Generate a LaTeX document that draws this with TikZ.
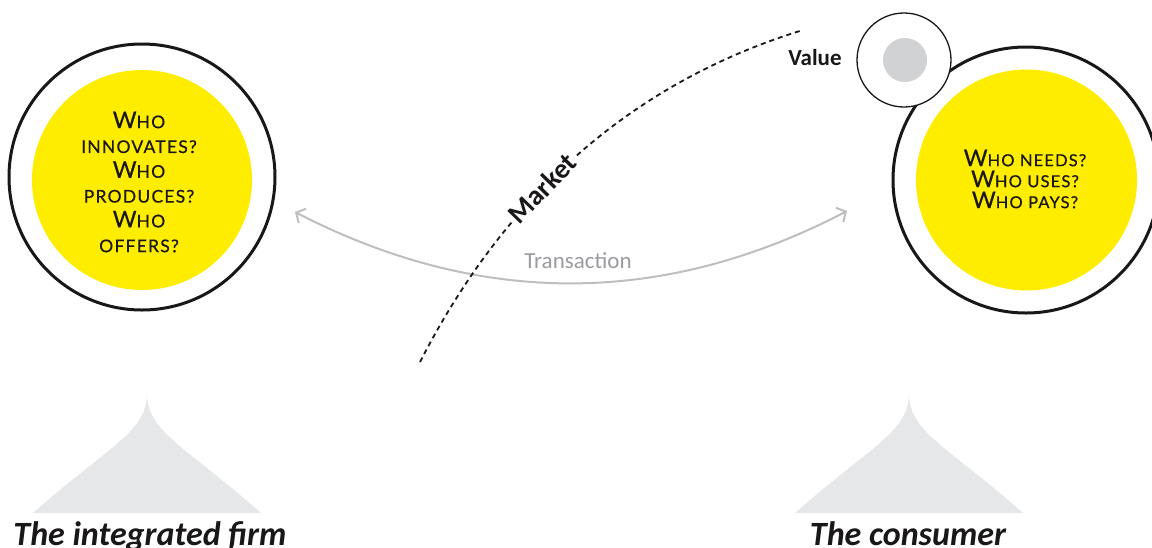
\documentclass[tikz,border=0pt]{standalone}
\usepackage{fontspec}
\setmainfont{Carlito}
\newfontfamily\whofont[LetterSpace=7,FakeBold=0.6]{Lato}
\usetikzlibrary{arrows.meta}
\definecolor{yel}{HTML}{FFED00}
\definecolor{discgray}{HTML}{D1D2D4}
\definecolor{tentgray}{HTML}{E6E7E8}
\definecolor{arrgray}{HTML}{BCBEC0}
\definecolor{txtgray}{HTML}{9A9B9E}
\definecolor{ink}{HTML}{1A1718}
\newcommand\bw{{\fontsize{23}{23}\selectfont W}}
\tikzset{
  ring/.style={circle, draw=ink, line width=3pt, fill=white, inner sep=0pt},
  disc/.style={circle, fill=yel, inner sep=0pt},
  smallring/.style={circle, draw=ink, line width=1.3pt, fill=white, inner sep=0pt},
  graydisc/.style={circle, fill=discgray, inner sep=0pt},
  whotext/.style={align=center, text=ink, inner sep=0pt},
  boldlabel/.style={font=\bfseries\fontsize{23}{23}\selectfont, text=ink},
  market/.style={draw=ink, line width=1.8pt, dash pattern=on 5pt off 4pt},
  trans/.style={draw=arrgray, line width=2pt, {Straight Barb[length=7pt,width=16pt]}-{Straight Barb[length=7pt,width=16pt]}},
  tent/.style={fill=tentgray},
  bottomlabel/.style={font=\bfseries\itshape\fontsize{34}{34}\selectfont, text=ink, anchor=base, inner sep=0pt}
}
\begin{document}
\begin{tikzpicture}[x=1pt,y=-1pt]
\useasboundingbox (0,0) rectangle (1152,547);

% tents
\fill[tent] (147,393) .. controls (147,432) and (110,445) .. (33,513) -- (261,513) .. controls (184,445) and (147,432) .. (147,393) -- cycle;
\fill[tent] (909,393) .. controls (909,432) and (872,445) .. (795,513) -- (1023,513) .. controls (946,445) and (909,432) .. (909,393) -- cycle;

% left circle
\node[ring, minimum size=266pt] (firmring) at (142,177) {};
\node[disc, minimum size=220pt] (firm) at (142,180) {};
\node[whotext, font=\whofont\fontsize{17.5}{24.8}\selectfont] (firmq) at (139,182)
  {\bw HO\\INNOVATES?\\\bw HO\\PRODUCES?\\\bw HO\\OFFERS?};

% right circle
\node[ring, minimum size=266pt] (consring) at (1026,180) {};
\node[disc, minimum size=221pt] (cons) at (1026.5,180) {};
\node[whotext, font=\whofont\fontsize{16.5}{21}\selectfont] (consq) at (1025,179)
  {\bw HO NEEDS?\\\bw HO USES?\\\bw HO PAYS?};

% value circle
\node[smallring, minimum size=94pt] (valring) at (904,60) {};
\node[graydisc, minimum size=44pt] (valdisc) at (905,60) {};
\node[boldlabel] (value) at (815,58) {Value};

% transaction arrow
\coordinate (tL) at (295,212);
\coordinate (tR) at (847,211);
\draw[trans] (tL) .. controls (479,307) and (663,307) .. (tR);
\node[text=txtgray, font=\fontsize{23}{23}\selectfont] (transaction) at (578,261) {Transaction};

% market curve
\coordinate (mA) at (420,362);
\coordinate (mB) at (803,30);
\draw[market] (mA) .. controls (481,243) and (591,95) .. node[pos=0.465, sloped, fill=white, inner sep=2pt, boldlabel, font=\bfseries\fontsize{28}{28}\selectfont] (market) {Market} (mB);

% bottom labels
\node[bottomlabel] (firmlabel) at (150,545) {The integrated firm};
\node[bottomlabel] (conslabel) at (908,545) {The consumer};
\end{tikzpicture}
\end{document}
